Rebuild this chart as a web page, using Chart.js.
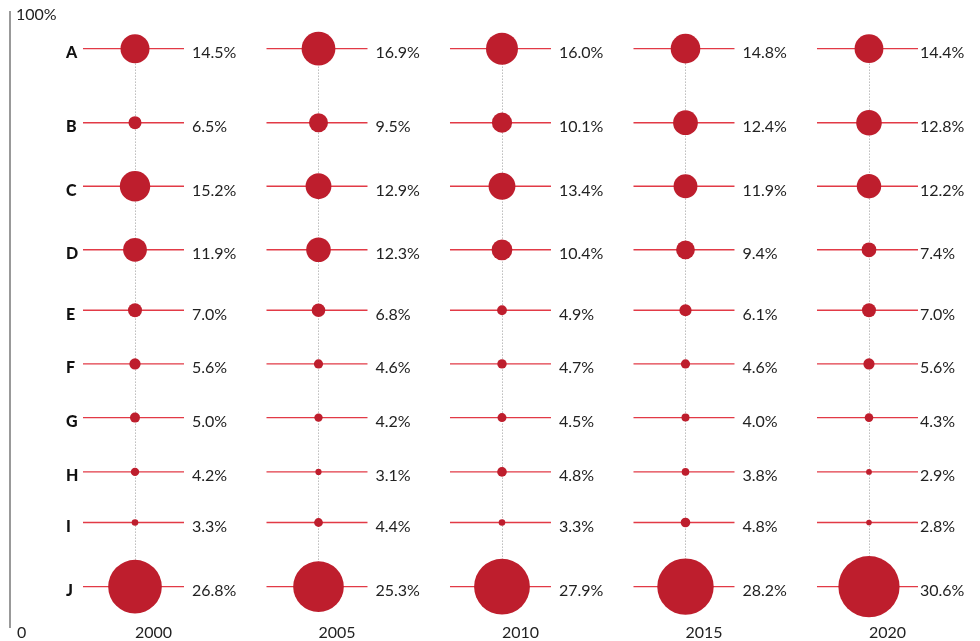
<!DOCTYPE html>
<html>
<head>
<meta charset="utf-8">
<script src="https://cdn.jsdelivr.net/npm/chart.js@4"></script>
<style>
  html, body { margin: 0; padding: 0; background: #fff; }
  #wrap { width: 980px; height: 641px; position: relative; }
</style>
</head>
<body>
<div id="wrap"><canvas id="shares"></canvas></div>
<script>
const years = [2000, 2005, 2010, 2015, 2020];
const categories = ["A", "B", "C", "D", "E", "F", "G", "H", "I", "J"];
// vertical level of each row on the 0-100% axis
const rowLevels = [93.9, 81.9, 71.6, 61.3, 51.5, 42.8, 34.1, 25.3, 17.1, 6.7];

const share2000 = [14.5, 6.5, 15.2, 11.9, 7.0, 5.6, 5.0, 4.2, 3.3, 26.8];
const share2005 = [16.9, 9.5, 12.9, 12.3, 6.8, 4.6, 4.2, 3.1, 4.4, 25.3];
const share2010 = [16.0, 10.1, 13.4, 10.4, 4.9, 4.7, 4.5, 4.8, 3.3, 27.9];
const share2015 = [14.8, 12.4, 11.9, 9.4, 6.1, 4.6, 4.0, 3.8, 4.8, 28.2];
const share2020 = [14.4, 12.8, 12.2, 7.4, 7.0, 5.6, 4.3, 2.9, 2.8, 30.6];

const yAxisLabels = ["0", "100%"];

const shares = [share2000, share2005, share2010, share2015, share2020];
const FONT = "Lato, 'Noto Sans', sans-serif";

// lines, dotted guides and all text labels
const guides = {
  id: "guides",
  beforeDatasetsDraw(chart) {
    const { ctx, scales: { x, y } } = chart;
    ctx.save();
    years.forEach((yr) => {
      const cx = x.getPixelForValue(yr);
      // dotted vertical guide
      ctx.strokeStyle = "#9a9a9a";
      ctx.lineWidth = 1;
      ctx.setLineDash([1, 2]);
      ctx.beginPath();
      ctx.moveTo(Math.round(cx) + 0.5, y.getPixelForValue(rowLevels[0]));
      ctx.lineTo(Math.round(cx) + 0.5, y.getPixelForValue(rowLevels[rowLevels.length - 1]));
      ctx.stroke();
      ctx.setLineDash([]);
      // horizontal red lines
      ctx.strokeStyle = "#e23a46";
      ctx.lineWidth = 1.4;
      rowLevels.forEach((lv) => {
        const py = y.getPixelForValue(lv);
        ctx.beginPath();
        ctx.moveTo(cx - 52, py);
        ctx.lineTo(cx + 49, py);
        ctx.stroke();
      });
    });
    ctx.restore();
  },
  afterDraw(chart) {
    const { ctx, chartArea, scales: { x, y } } = chart;
    ctx.save();
    // left axis line
    ctx.strokeStyle = "#777";
    ctx.lineWidth = 1.5;
    ctx.beginPath();
    ctx.moveTo(chartArea.left, y.getPixelForValue(100));
    ctx.lineTo(chartArea.left, y.getPixelForValue(0));
    ctx.stroke();

    ctx.textBaseline = "alphabetic";
    ctx.textAlign = "left";
    ctx.fillStyle = "#222";
    ctx.font = "16px " + FONT;
    ctx.fillText(yAxisLabels[1], chartArea.left + 6, y.getPixelForValue(100) + 9);
    ctx.fillText(yAxisLabels[0], chartArea.left + 7, y.getPixelForValue(0) + 10);

    // row letters
    ctx.fillStyle = "#111";
    ctx.font = "900 16px " + FONT;
    categories.forEach((c, i) => {
      ctx.fillText(c, 66, y.getPixelForValue(rowLevels[i]) + 9.5);
    });

    // value labels and year labels
    ctx.fillStyle = "#222";
    ctx.font = "16px " + FONT;
    years.forEach((yr, k) => {
      const cx = x.getPixelForValue(yr);
      const lx = Math.min(cx + 57, chartArea.right - 60);
      shares[k].forEach((v, i) => {
        ctx.fillText(v.toFixed(1) + "%", lx, y.getPixelForValue(rowLevels[i]) + 9.5);
      });
      ctx.fillText(String(yr), cx, y.getPixelForValue(0) + 10);
    });
    ctx.restore();
  },
};

new Chart(document.getElementById("shares"), {
  type: "bubble",
  data: {
    datasets: years.map((yr, k) => ({
      label: String(yr),
      data: categories.map((c, i) => ({ x: yr, y: rowLevels[i], r: shares[k][i] })),
      backgroundColor: "#be1e2d",
      borderWidth: 0,
      hoverBorderWidth: 0,
      clip: false,
    })),
  },
  options: {
    responsive: true,
    maintainAspectRatio: false,
    animation: false,
    layout: { autoPadding: false, padding: { left: 10, top: 11, right: 0, bottom: 13 } },
    plugins: {
      legend: { display: false },
      tooltip: { enabled: false },
    },
    scales: {
      x: { type: "linear", display: false, min: 1996.594, max: 2023.025 },
      y: { type: "linear", display: false, min: 0, max: 100 },
    },
  },
  plugins: [guides],
});
</script>
</body>
</html>
